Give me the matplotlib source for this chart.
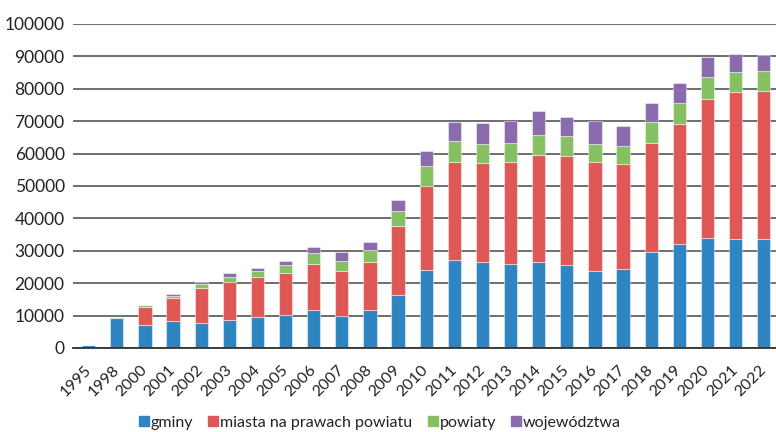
import numpy as np
import matplotlib.pyplot as plt
from matplotlib.lines import Line2D

plt.rcParams['font.family'] = ['Lato', 'DejaVu Sans']

lata = ['1995', '1998', '2000', '2001', '2002', '2003', '2004', '2005', '2006', '2007',
        '2008', '2009', '2010', '2011', '2012', '2013', '2014', '2015', '2016', '2017',
        '2018', '2019', '2020', '2021', '2022']

# wartości segmentów
gminy = [900, 9300, 7100, 8200, 7800, 8700, 9450, 10050, 11800, 9850,
         11800, 16300, 24100, 27300, 26600, 25950, 26600, 25550, 23900, 24400,
         29650, 32000, 34050, 33750, 33650]
miasta = [0, 0, 5500, 7300, 10750, 11700, 12400, 13250, 14250, 13850,
          14750, 21300, 25850, 30000, 30400, 31350, 33100, 33850, 33400, 32300,
          33550, 37000, 42950, 45150, 45550]
powiaty = [0, 150, 550, 700, 1250, 1650, 1950, 2250, 3200, 3300,
           3700, 4550, 6250, 6500, 6100, 6100, 6050, 6050, 5800, 5750,
           6450, 6700, 6700, 6300, 6300]
wojewodztwa = [0, 100, 150, 400, 700, 950, 800, 1200, 2050, 2650,
               2550, 3600, 4700, 6000, 6300, 6750, 7350, 5950, 6950, 6050,
               6050, 5950, 6150, 5550, 4950]

serie = ['gminy', 'miasta na prawach powiatu', 'powiaty', 'województwa']
kolory = ['#2e85c1', '#e05855', '#86c062', '#8a6bac']

fig = plt.figure(figsize=(7.76, 4.32), dpi=100)
ax = fig.add_axes([73 / 776, 84 / 432, 1 - 73 / 776, 324 / 432])

x = np.arange(len(lata))
dol = np.zeros(len(lata))
for dane, kolor in zip([gminy, miasta, powiaty, wojewodztwa], kolory):
    ax.bar(x, dane, width=0.47, bottom=dol, color=kolor,
           edgecolor=(1, 1, 1, 0.45), linewidth=0.8, zorder=3)
    dol += np.array(dane)

ax.set_ylim(0, 100000)
ax.set_xlim(-0.56, len(lata) - 0.56)
ax.set_yticks(np.arange(0, 100001, 10000))
ax.set_yticklabels([str(v) for v in range(0, 100001, 10000)], fontsize=12.5, color='#222222')
ax.yaxis.grid(True, color='#555555', linewidth=1.2, zorder=0)
ax.tick_params(axis='y', length=0, pad=6)
ax.tick_params(axis='x', length=0, pad=14)
ax.set_xticks(x)
ax.set_xticklabels(lata, rotation=45, ha='right', va='center', rotation_mode='anchor',
                   fontsize=11.5, color='#222222')
for s in ['top', 'right', 'left']:
    ax.spines[s].set_visible(False)
ax.spines['bottom'].set_color('#333333')
ax.spines['bottom'].set_linewidth(1.3)
ax.spines['bottom'].set_zorder(4)

uchwyty = [Line2D([], [], marker='s', linestyle='none', markersize=7,
                  markerfacecolor=k, markeredgecolor=k) for k in kolory]
fig.legend(uchwyty, serie, loc='center', bbox_to_anchor=(0.49, 0.022), ncol=4,
           frameon=False, fontsize=11.5, handlelength=0.55, handletextpad=0.15,
           columnspacing=1.0, labelcolor='#222222')

fig.savefig('out.png', dpi=100)
